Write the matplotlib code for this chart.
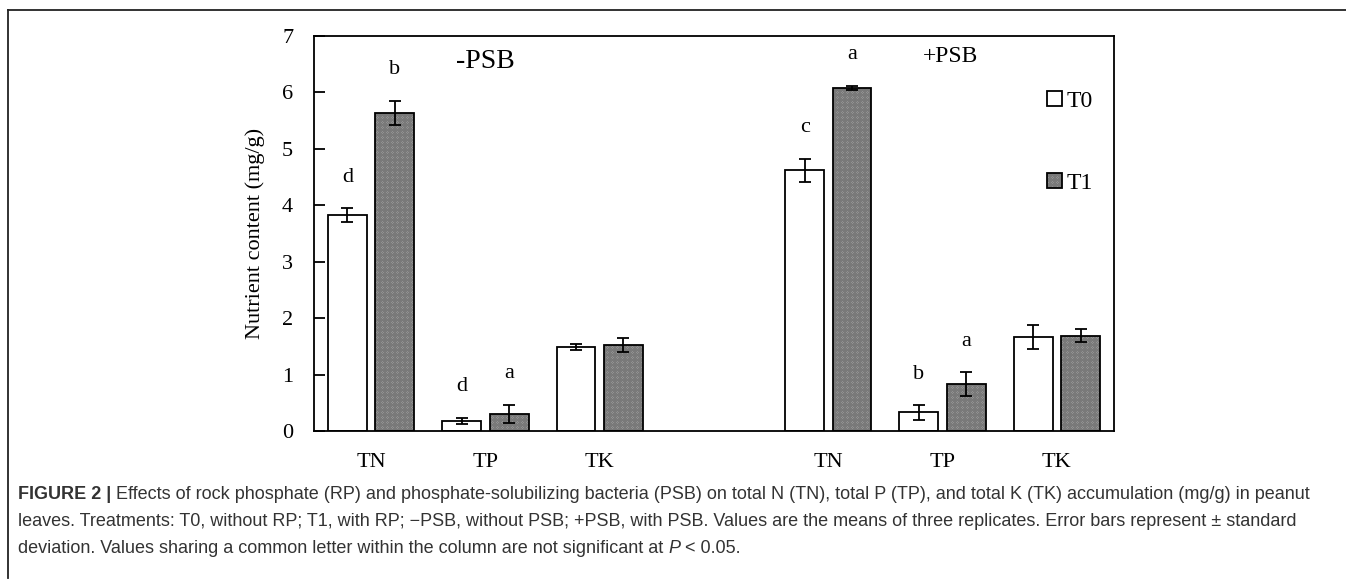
import numpy as np
import matplotlib
matplotlib.use("Agg")
import matplotlib.pyplot as plt
from matplotlib.lines import Line2D

# nutrient data (mg/g)
nutrients = ["TN", "TP", "TK"]
t0_minus = [3.83, 0.18, 1.49]
t0_minus_sd = [0.12, 0.05, 0.05]
t1_minus = [5.64, 0.30, 1.52]
t1_minus_sd = [0.21, 0.165, 0.12]
t0_plus = [4.62, 0.33, 1.67]
t0_plus_sd = [0.20, 0.13, 0.21]
t1_plus = [6.08, 0.83, 1.69]
t1_plus_sd = [0.035, 0.21, 0.11]

# significance letters
t0_minus_let = ["d", "d", ""]
t1_minus_let = ["b", "a", ""]
t0_plus_let = ["c", "b", ""]
t1_plus_let = ["a", "a", ""]

plt.rcParams["font.family"] = "Liberation Serif"
plt.rcParams["hatch.linewidth"] = 0.45

fig = plt.figure(figsize=(13.46, 5.83), dpi=100)
ax = fig.add_axes([0.2333, 0.2607, 0.5944, 0.6776])

pos_minus = np.arange(3)
pos_plus = np.arange(3) + 4
w = 0.34
off = 0.2075
hatch = "x" * 20
hatch_col = "#787878"

bar_kw = dict(width=w, edgecolor="black", linewidth=1.3, capsize=4,
              error_kw=dict(elinewidth=1.3, capthick=1.3, ecolor="black"))

b0 = ax.bar(pos_minus - off, t0_minus, yerr=t0_minus_sd, color="white", **bar_kw)
# T1: gray hatch layer first, then black outline + error bars on top
h1 = ax.bar(pos_minus + off, t1_minus, width=w, color="white", edgecolor=hatch_col, linewidth=0, hatch=hatch)
b1 = ax.bar(pos_minus + off, t1_minus, yerr=t1_minus_sd, fill=False, **bar_kw)
ax.bar(pos_plus - off, t0_plus, yerr=t0_plus_sd, color="white", **bar_kw)
ax.bar(pos_plus + off, t1_plus, width=w, color="white", edgecolor=hatch_col, linewidth=0, hatch=hatch)
ax.bar(pos_plus + off, t1_plus, yerr=t1_plus_sd, fill=False, **bar_kw)

# letters above error bars
for pos, vals, sds, lets in [
    (pos_minus - off, t0_minus, t0_minus_sd, t0_minus_let),
    (pos_minus + off, t1_minus, t1_minus_sd, t1_minus_let),
    (pos_plus - off, t0_plus, t0_plus_sd, t0_plus_let),
    (pos_plus + off, t1_plus, t1_plus_sd, t1_plus_let),
]:
    for x, v, s, l in zip(pos, vals, sds, lets):
        if l:
            ax.text(x, v + s + 0.55, l, ha="center", va="center", fontsize=16)

ax.text(1.0, 6.54, "-PSB", ha="center", va="center", fontsize=20)
ax.text(5.07, 6.63, "+PSB", ha="center", va="center", fontsize=17)

ax.set_xlim(-0.5, 6.5)
ax.set_ylim(0, 7)
ax.set_yticks(range(8))
ax.set_xticks(list(pos_minus) + list(pos_plus))
ax.set_xticklabels(nutrients + nutrients)
ax.tick_params(axis="y", direction="in", length=8, width=1.3, pad=15, labelsize=16)
ax.tick_params(axis="x", length=0, pad=16, labelsize=16)
for sp in ax.spines.values():
    sp.set_linewidth(1.3)
ax.set_ylabel("Nutrient content (mg/g)", fontsize=16, labelpad=12)

ax.legend([b0.patches[0], (h1.patches[0], b1.patches[0])], ["T0", "T1"],
          loc="upper right", bbox_to_anchor=(0.985, 0.885), frameon=False,
          fontsize=17, labelspacing=2.6, handlelength=0.6, handleheight=0.6,
          handletextpad=0.2, borderaxespad=0)

# outer frame of the figure panel (top and left only)
fig.add_artist(Line2D([8 / 1346, 1], [1 - 10 / 583, 1 - 10 / 583], color="#222222", lw=1.3))
fig.add_artist(Line2D([8 / 1346, 8 / 1346], [1 - 10 / 583, 1 - 578 / 583], color="#222222", lw=1.3))

# caption
cap_kw = dict(fontsize=13, family="Liberation Sans", color="#333333")
y1, y2, y3 = 1 - 499 / 583, 1 - 526 / 583, 1 - 553 / 583
t = fig.text(18 / 1346, y1, "FIGURE 2 |", fontweight="bold", va="baseline", **cap_kw)
ax.annotate(" Effects of rock phosphate (RP) and phosphate-solubilizing bacteria (PSB) on total N (TN), "
            "total P (TP), and total K (TK) accumulation (mg/g) in peanut",
            xy=(1, 0), xycoords=t, annotation_clip=False, va="bottom", **cap_kw)
fig.text(18 / 1346, y2, "leaves. Treatments: T0, without RP; T1, with RP; \u2212PSB, without PSB; +PSB, with PSB. "
         "Values are the means of three replicates. Error bars represent \u00b1 standard", va="baseline", **cap_kw)
t3 = fig.text(18 / 1346, y3, "deviation. Values sharing a common letter within the column are not significant at ",
              va="baseline", **cap_kw)
t4 = ax.annotate("P", xy=(1, 0), xycoords=t3, annotation_clip=False, style="italic", va="bottom", **cap_kw)
ax.annotate(" < 0.05.", xy=(1, 0), xycoords=t4, annotation_clip=False, va="bottom", **cap_kw)

fig.savefig("out.png", dpi=100)
